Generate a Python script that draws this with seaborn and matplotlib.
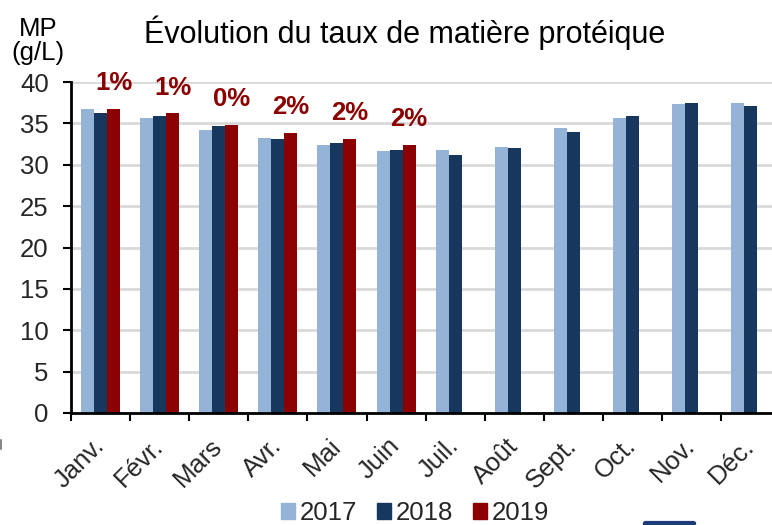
import numpy as np
import pandas as pd
import seaborn as sns
import matplotlib
matplotlib.use("Agg")
import matplotlib.pyplot as plt
from matplotlib.patches import FancyBboxPatch
from matplotlib.lines import Line2D

months = ["Janv.", "Févr.", "Mars", "Avr.", "Mai", "Juin", "Juil.", "Août",
          "Sept.", "Oct.", "Nov.", "Déc."]
years = ["2017", "2018", "2019"]
v2017 = [36.7, 35.6, 34.2, 33.2, 32.4, 31.7, 31.8, 32.1, 34.4, 35.6, 37.3, 37.5]
v2018 = [36.3, 35.9, 34.7, 33.1, 32.6, 31.8, 31.2, 32.0, 34.0, 35.9, 37.5, 37.1]
v2019 = [36.7, 36.2, 34.8, 33.8, 33.1, 32.4]
pct_2019 = ["1%", "1%", "0%", "2%", "2%", "2%"]
colors = ["#95B3D7", "#17375E", "#8B0000"]

rows = []
for m, a in zip(months, v2017):
    rows.append((m, "2017", a))
for m, b in zip(months, v2018):
    rows.append((m, "2018", b))
for m, c in zip(months, v2019):
    rows.append((m, "2019", c))
df = pd.DataFrame(rows, columns=["mois", "annee", "mp"])

sns.set_theme(style="white")
plt.rcParams["font.family"] = ["Liberation Sans", "DejaVu Sans"]

fig = plt.figure(figsize=(7.72, 5.25), dpi=100)
W, H = 772, 525
ax = fig.add_axes([71 / W, 1 - 413 / H, (780.2 - 71) / W, (413 - 82) / H])

sns.barplot(data=df, x="mois", y="mp", hue="annee", order=months,
            hue_order=years, palette=colors, width=0.66, ax=ax,
            edgecolor="none", linewidth=0, legend=True, saturation=1)

ax.set_ylim(0, 40)
ax.set_xlim(-0.5, 11.5)
ax.set_yticks(np.arange(0, 41, 5))
ax.yaxis.grid(True, color="#D9D9D9", linewidth=2)
ax.set_axisbelow(True)
ax.set_xlabel("")
ax.set_ylabel("")
for s in ["top", "right"]:
    ax.spines[s].set_visible(False)
for s in ["left", "bottom"]:
    ax.spines[s].set_color("black")
    ax.spines[s].set_linewidth(2)

ax.tick_params(axis="y", which="major", length=6, width=1.5, color="black",
               direction="out", labelsize=18.5, pad=10, left=True)
ax.set_xticks(np.arange(-0.5, 12, 1), minor=True)
ax.tick_params(axis="x", which="minor", length=6, width=1.5, color="black",
               direction="out", bottom=True)
ax.tick_params(axis="x", which="major", length=0, labelsize=18.5, pad=21)
ax.set_xticks(range(len(months)))
ax.set_xticklabels(months)
for lab in ax.get_xticklabels():
    lab.set_rotation(45)
    lab.set_ha("right")
    lab.set_va("center")
    lab.set_rotation_mode("anchor")

# percentage labels above the 2019 bars
cont = ax.containers[2]
labels = pct_2019 + [""] * (len(cont) - len(pct_2019))
ax.bar_label(cont, labels=labels, padding=10, color="#8B0000",
             fontsize=18.5, fontweight="bold")

leg = ax.get_legend()
if leg is not None:
    leg.remove()
handles = [plt.Rectangle((0, 0), 1, 1, color=c) for c in colors]
fig.legend(handles, years, loc="center", bbox_to_anchor=(415 / W, 1 - 513 / H),
           ncol=3, frameon=False, fontsize=18.5, handlelength=0.55,
           handleheight=0.55, handletextpad=0.2, columnspacing=0.75,
           borderpad=0)

fig.text(405 / W, 1 - 33 / H, "Évolution du taux de matière protéique",
         ha="center", va="center", fontsize=22, color="black")
fig.text(38 / W, 1 - 41 / H, "MP\n(g/L)", ha="center", va="center",
         fontsize=18.5, color="black", linespacing=1.0)

# small decorative artifacts at the edges of the original picture
fig.add_artist(FancyBboxPatch((646 / W, 1 - 527 / H), 47 / W, 4 / H,
                              boxstyle="round,pad=0.004", transform=fig.transFigure,
                              facecolor="#1F3A78", edgecolor="none", clip_on=False))
fig.add_artist(Line2D([1 / W, 1 / W], [1 - 440 / H, 1 - 449 / H],
                      transform=fig.transFigure, color="#888888", linewidth=1.5))

fig.savefig("out.png", dpi=100)
